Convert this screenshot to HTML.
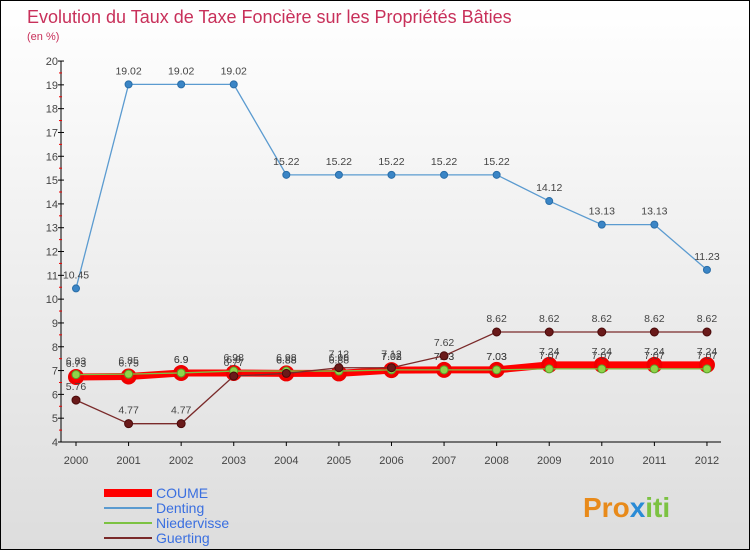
<!DOCTYPE html>
<html><head><meta charset="utf-8"><style>
body{margin:0}
#c{width:748px;height:548px;border:1px solid #000;background:linear-gradient(#fff,#ddd);position:relative;font-family:"Liberation Sans",sans-serif;overflow:hidden}
</style></head><body>
<div id="c">
<svg id="s" width="748" height="548" xmlns="http://www.w3.org/2000/svg">
<text x="26" y="22" font-size="18" fill="#c8305a">Evolution du Taux de Taxe Foncière sur les Propriétés Bâties</text>
<text x="26" y="39" font-size="11" fill="#c8305a">(en %)</text>
<g id="axes"></g><g id="series"></g><g id="legend"></g>
<text x="582" y="516" font-size="28" font-weight="bold" fill="#e88a1a">Pro<tspan fill="#2a8bd6">x</tspan><tspan fill="#7cc242">iti</tspan></text>
</svg></div>
<script>
const years=[2000,2001,2002,2003,2004,2005,2006,2007,2008,2009,2010,2011,2012];
const yTicks=[4,5,6,7,8,9,10,11,12,13,14,15,16,17,18,19,20];
const coume=[6.73,6.75,6.9,6.9,6.88,6.88,7.02,7.03,7.03,7.24,7.24,7.24,7.24];
const denting=[10.45,19.02,19.02,19.02,15.22,15.22,15.22,15.22,15.22,14.12,13.13,13.13,11.23];
const nieder=[6.83,6.85,6.9,6.98,6.98,6.98,7.03,7.03,7.03,7.07,7.07,7.07,7.07];
const guerting=[5.76,4.77,4.77,6.77,6.88,7.12,7.12,7.62,8.62,8.62,8.62,8.62,8.62];
const NS="http://www.w3.org/2000/svg";
const X=i=>75+i*52.58, Y=v=>441-(v-4)*23.81;
function mk(p,t,a){const e=document.createElementNS(NS,t);for(const k in a)e.setAttribute(k,a[k]);p.appendChild(e);return e;}
const ax=document.getElementById('axes'),sr=document.getElementById('series'),lg=document.getElementById('legend');
let l=mk(ax,'line',{x1:60,y1:Y(20),x2:60,y2:441,stroke:'#000'});

l=mk(ax,'line',{x1:60,y1:441,x2:720,y2:441,stroke:'#000'});

yTicks.forEach(v=>{
 mk(ax,'line',{x1:57,x2:63,y1:Y(v),y2:Y(v),stroke:'#000'});
 if(v<20)mk(ax,'line',{x1:58,x2:61,y1:Y(v+0.5),y2:Y(v+0.5),stroke:'#e00'});
 const t=mk(ax,'text',{x:57,y:Y(v)+4,'font-size':11,'text-anchor':'end',fill:'#444'});t.textContent=v;
 
});
years.forEach((y,i)=>{
 mk(ax,'line',{x1:X(i),x2:X(i),y1:441,y2:445,stroke:'#000'});
 const t=mk(ax,'text',{x:X(i),y:463,'font-size':11,'text-anchor':'middle',fill:'#444'});t.textContent=y;
 
});
function series(d,name,color,w,r,fill,stroke){
 const g=mk(sr,'g',{});
 
 const p=mk(g,'polyline',{points:d.map((v,i)=>X(i)+','+Y(v)).join(' '),fill:'none',stroke:color,'stroke-width':w});
 
 d.forEach((v,i)=>{
  const c=mk(g,'circle',{cx:X(i),cy:Y(v),r:r,fill:fill,stroke:stroke,'stroke-width':r>5?3:1});
  
  const t=mk(g,'text',{x:X(i),y:Y(v)-10,'font-size':10.5,'text-anchor':'middle',fill:'#444'});t.textContent=v;
  
 });
}
series(denting,'denting','#5b9bd0',1.3,3.5,'#3a85c6','#2a6ea8');
series(coume,'coume','#f00',7,6.5,'#f00','#e00');
series(nieder,'niedervisse','#7cc242',1.3,4,'#8fd44a','#5aa02a');
series(guerting,'guerting','#7a2a2a',1.3,4,'#6a1a1a','#4a0a0a');
const names=['COUME','Denting','Niedervisse','Guerting'],cols=['#f00','#5b9bd0','#7cc242','#7a2a2a'],ws=[8,2,2,2];
names.forEach((n,i)=>{
 const y=492+i*15;
 const s=mk(lg,'line',{x1:103,x2:151,y1:y,y2:y,stroke:cols[i],'stroke-width':ws[i]});
 
 const t=mk(lg,'text',{x:155,y:y+5,'font-size':14,fill:'#3a6fe0'});t.textContent=n;
 
});
</script></body></html>
